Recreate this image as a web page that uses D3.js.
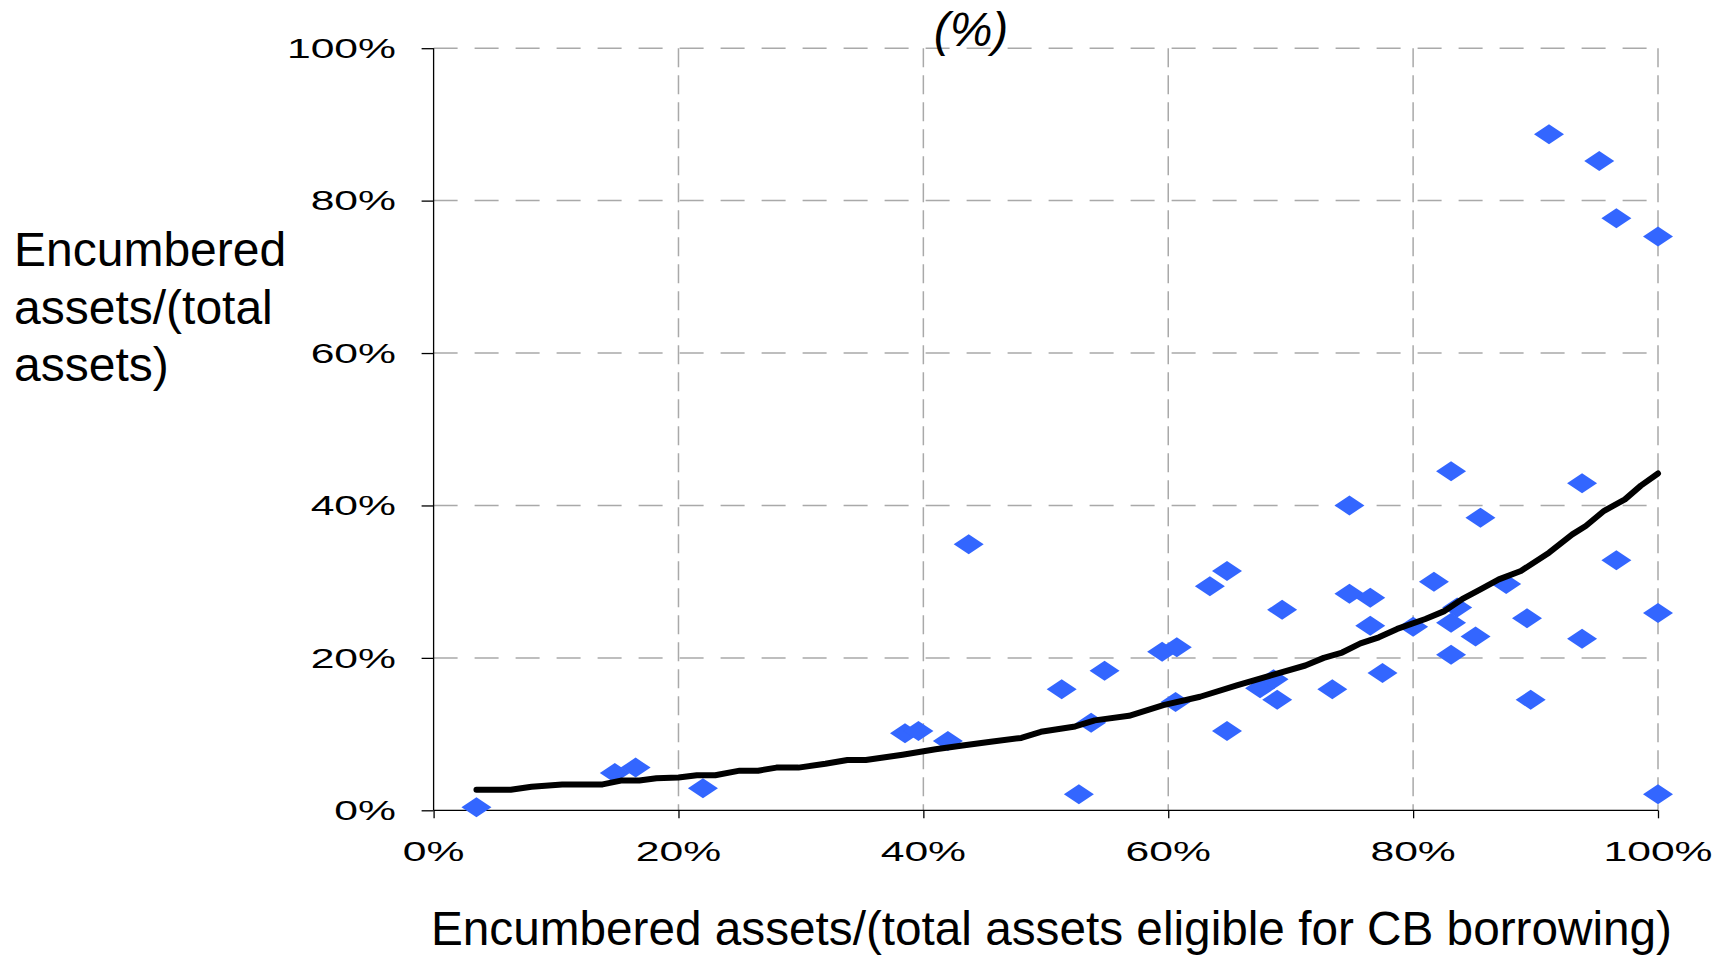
<!DOCTYPE HTML>
<html>
<meta charset="utf-8">
<title>Encumbered assets scatter</title>
<script src="https://d3js.org/d3.v7.min.js"></script>
<head>
<style>
	body { margin: 0; background: #fff; }
	svg { display: block; }
	.title { font-family: "Liberation Sans", Arial, sans-serif; font-size: 48px; fill: #000; }
	.tick-label { font-family: "Liberation Sans", Arial, sans-serif; font-size: 27px; fill: #000; }
</style>
</head>
<body>
<svg id="chart" width="1717" height="955"></svg>

<script type="text/javascript">

/** DATA (in %) **/

	var tickValues = [0, 20, 40, 60, 80, 100];
	var tickLabels = ["0%", "20%", "40%", "60%", "80%", "100%"];

	// scatter: one point per bank
	var bankX = [3.5, 14.8, 16.5, 22.0, 38.5, 39.6, 42.0, 43.7, 51.3, 52.7, 53.7, 54.8,
		59.5, 60.7, 60.6, 63.4, 64.8, 64.8, 67.5, 68.6, 68.9, 69.3, 73.4, 74.8,
		74.8, 76.5, 76.5, 77.5, 80.0, 81.7, 83.1, 83.6, 83.1, 83.1, 85.1, 85.5,
		87.6, 89.3, 89.6, 91.1, 93.8, 93.8, 95.2, 96.6, 96.6, 100, 100, 100];
	var bankY = [0.4, 4.9, 5.6, 2.9, 10.1, 10.4, 9.1, 34.9, 15.9, 2.1, 11.5, 18.3,
		20.8, 21.4, 14.2, 29.4, 31.4, 10.4, 16.0, 17.2, 14.5, 26.3, 15.9, 40.0,
		28.4, 27.9, 24.2, 18.0, 24.1, 30.0, 44.5, 26.6, 24.6, 20.4, 22.8, 38.4,
		29.7, 25.2, 14.5, 88.7, 42.9, 22.5, 85.2, 77.7, 32.8, 75.3, 25.9, 2.1];

	// fitted curve
	var fitX = [3.5, 6.3, 8.0, 10.5, 13.8, 15.3, 16.8, 18.2, 20.0, 21.5, 23.0, 25.0,
		26.5, 28.0, 29.8, 32.0, 33.8, 35.3, 38.3, 41.0, 43.2, 45.5, 48.0, 49.6,
		52.4, 54.0, 56.8, 59.6, 62.6, 65.6, 68.6, 71.2, 72.7, 74.2, 75.7, 77.2,
		78.7, 81.0, 82.5, 84.0, 85.5, 87.0, 88.8, 91.1, 93.0, 94.1, 95.6, 97.3,
		98.6, 100];
	var fitY = [2.7, 2.7, 3.1, 3.4, 3.4, 3.9, 3.9, 4.2, 4.3, 4.6, 4.6, 5.2,
		5.2, 5.6, 5.6, 6.1, 6.6, 6.6, 7.3, 8.0, 8.5, 9.0, 9.5, 10.3,
		11.0, 11.8, 12.4, 13.8, 14.9, 16.4, 17.8, 19.0, 20.0, 20.7, 21.9, 22.7,
		23.8, 25.1, 26.1, 27.7, 29.0, 30.3, 31.4, 33.8, 36.2, 37.3, 39.3, 40.8,
		42.6, 44.2];

/** SCALES **/

	var svg = d3.select("#chart");
	var x = d3.scaleLinear().domain([0, 100]).range([433.6, 1658]);
	var y = d3.scaleLinear().domain([0, 100]).range([810.3, 48.2]);
	var stretch = 1.58; // tick labels in the picture are drawn wide

/** GRID **/

	var grid = svg.append("g");
	grid.selectAll(".vgrid").data(tickValues.slice(1)).enter().append("line")
		.attr("x1", function(d){ return x(d); })
		.attr("x2", function(d){ return x(d); })
		.attr("y1", y(100))
		.attr("y2", y(0))
		.attr("stroke", "#a9a9a9")
		.attr("stroke-width", 1.5)
		.attr("stroke-dasharray", "19,8");
	grid.selectAll(".hgrid").data(tickValues.slice(1)).enter().append("line")
		.attr("x1", x(0))
		.attr("x2", x(100))
		.attr("y1", function(d){ return y(d); })
		.attr("y2", function(d){ return y(d); })
		.attr("stroke", "#a9a9a9")
		.attr("stroke-width", 1.5)
		.attr("stroke-dasharray", "24,17");

/** AXES **/

	var yAxis = d3.axisLeft(y).tickValues(tickValues).tickSize(12).tickFormat("");
	var xAxis = d3.axisBottom(x).tickValues(tickValues).tickSize(8).tickFormat("");

	var gy = svg.append("g").attr("transform", "translate(" + x(0) + ",0)").call(yAxis);
	var gx = svg.append("g").attr("transform", "translate(0," + y(0) + ")").call(xAxis);
	[gx, gy].forEach(function(g){
		g.select(".domain").attr("stroke", "#000").attr("stroke-width", 1.3);
		g.selectAll(".tick line").attr("stroke", "#000").attr("stroke-width", 1.3);
	});
	gy.select(".domain").attr("d", "M0," + y(100) + "V" + y(0));
	gx.select(".domain").attr("d", "M" + x(0) + ",0H" + x(100));

	// tick labels
	svg.selectAll(".ylab").data(tickValues).enter().append("text")
		.attr("class", "tick-label")
		.attr("text-anchor", "end")
		.attr("dy", "0.36em")
		.attr("transform", function(d){ return "translate(396," + y(d) + ") scale(" + stretch + ",1)"; })
		.text(function(d, i){ return tickLabels[i]; });

	svg.selectAll(".xlab").data(tickValues).enter().append("text")
		.attr("class", "tick-label")
		.attr("text-anchor", "middle")
		.attr("dy", "0.36em")
		.attr("transform", function(d){ return "translate(" + x(d) + ",851) scale(" + stretch + ",1)"; })
		.text(function(d, i){ return tickLabels[i]; });

/** POINTS **/

	var diamond = "M-15,0L0,-10L15,0L0,10Z";
	svg.append("g").selectAll("path").data(bankX).enter().append("path")
		.attr("d", diamond)
		.attr("transform", function(d, i){ return "translate(" + x(d) + "," + y(bankY[i]) + ")"; })
		.attr("fill", "#3366ff");

/** FITTED LINE **/

	var line = d3.line()
		.x(function(d){ return x(d); })
		.y(function(d, i){ return y(fitY[i]); });
	svg.append("path")
		.datum(fitX)
		.attr("d", line)
		.attr("fill", "none")
		.attr("stroke", "#000")
		.attr("stroke-width", 6)
		.attr("stroke-linejoin", "round")
		.attr("stroke-linecap", "round");

/** TITLES **/

	svg.append("text").attr("class", "title")
		.attr("x", 971).attr("y", 46)
		.attr("text-anchor", "middle")
		.style("font-style", "italic")
		.text("(%)");

	var yTitle = ["Encumbered", "assets/(total", "assets)"];
	svg.append("text").attr("class", "title")
		.selectAll("tspan").data(yTitle).enter().append("tspan")
		.attr("x", 14)
		.attr("y", function(d, i){ return 266 + i * 57.5; })
		.text(function(d){ return d; });

	svg.append("text").attr("class", "title")
		.attr("x", 431).attr("y", 945)
		.attr("textLength", 1241)
		.attr("lengthAdjust", "spacingAndGlyphs")
		.text("Encumbered assets/(total assets eligible for CB borrowing)");

</script>
</body>
</html>
